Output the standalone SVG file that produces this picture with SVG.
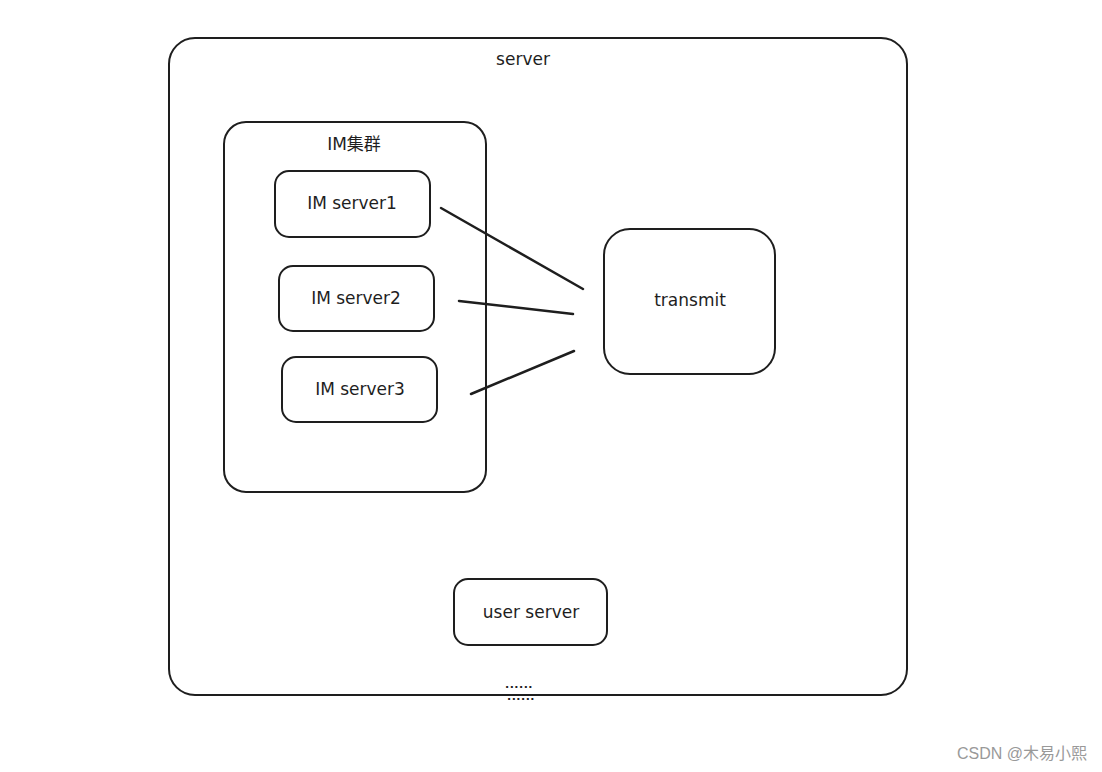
<svg xmlns="http://www.w3.org/2000/svg" width="1102" height="772" viewBox="0 0 1102 772">
<style>
.box{fill:none;stroke:#1e1e1e;stroke-width:2}
.t{font-family:"DejaVu Sans","Noto Sans CJK SC",sans-serif;font-size:17px;fill:#1e1e1e;text-anchor:middle;dominant-baseline:middle}
.dots{font-family:"DejaVu Sans",sans-serif;font-size:11px;font-weight:bold;fill:#1e1e1e;text-anchor:middle;letter-spacing:0.5px}
.ln{stroke:#1e1e1e;stroke-width:2.5;stroke-linecap:round}
</style>
<rect width="1102" height="772" fill="#fff"/>
<g id="server">
<rect class="box" x="169" y="38" width="738" height="657" rx="26"/>
<text class="t" x="523" y="60">server</text>
<text class="dots" x="519" y="688">......</text>
<text class="dots" x="521" y="700">......</text>
</g>
<g id="im-cluster">
<rect class="box" x="224" y="122" width="262" height="370" rx="22"/>
<text class="t" x="354" y="145">IM集群</text>
</g>
<g id="im-server1">
<rect class="box" x="275" y="171" width="155" height="66" rx="14"/>
<text class="t" x="352" y="204">IM server1</text>
</g>
<g id="im-server2">
<rect class="box" x="279" y="266" width="155" height="65" rx="14"/>
<text class="t" x="356" y="299">IM server2</text>
</g>
<g id="im-server3">
<rect class="box" x="282" y="357" width="155" height="65" rx="14"/>
<text class="t" x="360" y="390">IM server3</text>
</g>
<g id="transmit">
<rect class="box" x="604" y="229" width="171" height="145" rx="26"/>
<text class="t" x="690" y="301">transmit</text>
</g>
<g id="user-server">
<rect class="box" x="454" y="579" width="153" height="66" rx="14"/>
<text class="t" x="531" y="613">user server</text>
</g>
<g id="connectors">
<line class="ln" x1="441" y1="208" x2="583" y2="289"/>
<line class="ln" x1="459" y1="301" x2="573" y2="314"/>
<line class="ln" x1="471" y1="394" x2="574" y2="351"/>
</g>
<text x="1087" y="759" style="font-family:'Liberation Sans','Noto Sans CJK SC',sans-serif;font-size:16px;fill:#999;text-anchor:end">CSDN @木易小熙</text>
</svg>
